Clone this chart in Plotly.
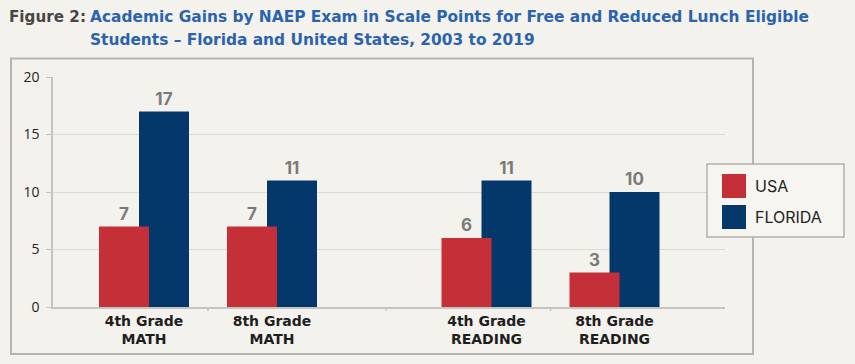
import plotly.graph_objects as go

# ---- data ----
math_categories = ["4th Grade<br>MATH", "8th Grade<br>MATH"]
reading_categories = ["4th Grade<br>READING", "8th Grade<br>READING"]
usa_math = [7, 7]
florida_math = [17, 11]
usa_reading = [6, 3]
florida_reading = [11, 10]
y_ticks = [0, 5, 10, 15, 20]
series_names = ["USA", "FLORIDA"]

# ---- style ----
W, H = 855, 364
L, R, T, B = 53, 725, 77, 307          # plot area in pixels
RED = "#c42f38"
BLUE = "#04386b"
LABEL_GRAY = "#7a7a7a"
GRID = "#dddbd5"
AXIS = "#c4c4c0"
BG = "#f4f2ec"
FONT_B = "Inter"
FONT_W = "DejaVu Sans"

def px_x(p):
    return (p - L) / (R - L)

def px_y(p):
    return (B - p) / (B - T)

split = px_x(386)
cat_px = 128.0
math_range = [-(144 - L) / cat_px, (386 - 144) / cat_px]
read_range = [-(486.5 - 386) / cat_px, (R - 486.5) / cat_px]

bar_w = 50 / cat_px
red_off = -45 / cat_px
blue_off = -5 / cat_px

fig = go.Figure()

def add_bars(cats, usa, fl, xa, ya):
    common = dict(textposition="outside", cliponaxis=False, constraintext="none",
                  texttemplate="%{y}", showlegend=False, width=bar_w,
                  textfont=dict(family=FONT_B, size=17, color=LABEL_GRAY, weight="bold"),
                  xaxis=xa, yaxis=ya, hoverinfo="skip")
    fig.add_trace(go.Bar(x=cats, y=fl, name=series_names[1], marker=dict(color=BLUE, line=dict(width=0)),
                         offset=blue_off, **common))
    fig.add_trace(go.Bar(x=cats, y=usa, name=series_names[0], marker=dict(color=RED, line=dict(width=0)),
                         offset=red_off, **common))

add_bars(math_categories, usa_math, florida_math, "x", "y")
add_bars(reading_categories, usa_reading, florida_reading, "x2", "y2")

xaxis_common = dict(type="category", showgrid=False, showline=True, linecolor=AXIS, linewidth=1.5,
                    ticks="", zeroline=False, fixedrange=True,
                    tickfont=dict(family=FONT_W, size=14, color="#1e1e1e", weight="bold"))
yaxis_common = dict(range=[0, 20], tickvals=y_ticks, showgrid=True, gridcolor=GRID, gridwidth=1.2,
                    zeroline=False, fixedrange=True)

fig.update_layout(
    width=W, height=H,
    margin=dict(l=L, r=W - R, t=T, b=H - B, pad=0),
    paper_bgcolor=BG, plot_bgcolor="rgba(0,0,0,0)",
    barmode="overlay",
    xaxis=dict(domain=[0, split], range=math_range, anchor="y", **xaxis_common),
    xaxis2=dict(domain=[split, 1], range=read_range, anchor="y2", **xaxis_common),
    yaxis=dict(anchor="x", showline=True, linecolor=AXIS, linewidth=1.5, ticks="outside",
               ticklen=5, tickcolor=AXIS, ticklabelstandoff=4,
               tickfont=dict(family="Open Sans", size=14, color="#222"), **yaxis_common),
    yaxis2=dict(anchor="x2", matches="y", showticklabels=False, showline=False, ticks="", **yaxis_common),
    font=dict(family=FONT_B),
)

shapes = []
# outer frame
shapes.append(dict(type="rect", xref="paper", yref="paper",
                   x0=px_x(11), x1=px_x(753), y0=px_y(354), y1=px_y(58.5),
                   line=dict(color="#b4b4b0", width=2), fillcolor="rgba(0,0,0,0)", layer="below"))
# small category ticks on the x axis
for xr, xv in (("x", 0.5), ("x2", 0.5)):
    shapes.append(dict(type="line", xref=xr, yref="paper", x0=xv, x1=xv, y0=0, y1=px_y(311),
                       line=dict(color=AXIS, width=1.5)))
shapes.append(dict(type="line", xref="paper", yref="paper", x0=split, x1=split, y0=0, y1=px_y(311),
                   line=dict(color=AXIS, width=1.5)))
# legend box
shapes.append(dict(type="rect", xref="paper", yref="paper",
                   x0=px_x(707), x1=px_x(844), y0=px_y(237), y1=px_y(164),
                   line=dict(color="#b0b0ac", width=1.5), fillcolor="#f6f5f0"))
for (y0, y1, c) in ((174, 198, RED), (205, 229, BLUE)):
    shapes.append(dict(type="rect", xref="paper", yref="paper",
                       x0=px_x(722), x1=px_x(746), y0=px_y(y1), y1=px_y(y0),
                       line=dict(width=0), fillcolor=c))
fig.update_layout(shapes=shapes)

annotations = [
    dict(text="<b>Figure 2:</b>", x=px_x(7), y=px_y(17), xanchor="left", yanchor="middle",
         font=dict(family=FONT_W, size=15.2, color="#464646")),
    dict(text="<b>Academic Gains by NAEP Exam in Scale Points for Free and Reduced Lunch Eligible</b>",
         x=px_x(88), y=px_y(17), xanchor="left", yanchor="middle",
         font=dict(family=FONT_W, size=15.4, color="#2b63ae")),
    dict(text="<b>Students \u2013 Florida and United States, 2003 to 2019</b>",
         x=px_x(88), y=px_y(40), xanchor="left", yanchor="middle",
         font=dict(family=FONT_W, size=15.4, color="#2b63ae")),
    dict(text=series_names[0], x=px_x(753), y=px_y(186), xanchor="left", yanchor="middle",
         font=dict(family=FONT_B, size=16, color="#222")),
    dict(text=series_names[1], x=px_x(753), y=px_y(217), xanchor="left", yanchor="middle",
         font=dict(family=FONT_B, size=16, color="#222")),
]
for a in annotations:
    a.update(xref="paper", yref="paper", showarrow=False)
fig.update_layout(annotations=annotations)

fig.write_html("out.html", config={"displayModeBar": False},
               post_script="document.body.style.margin='0';document.body.style.padding='0';")
